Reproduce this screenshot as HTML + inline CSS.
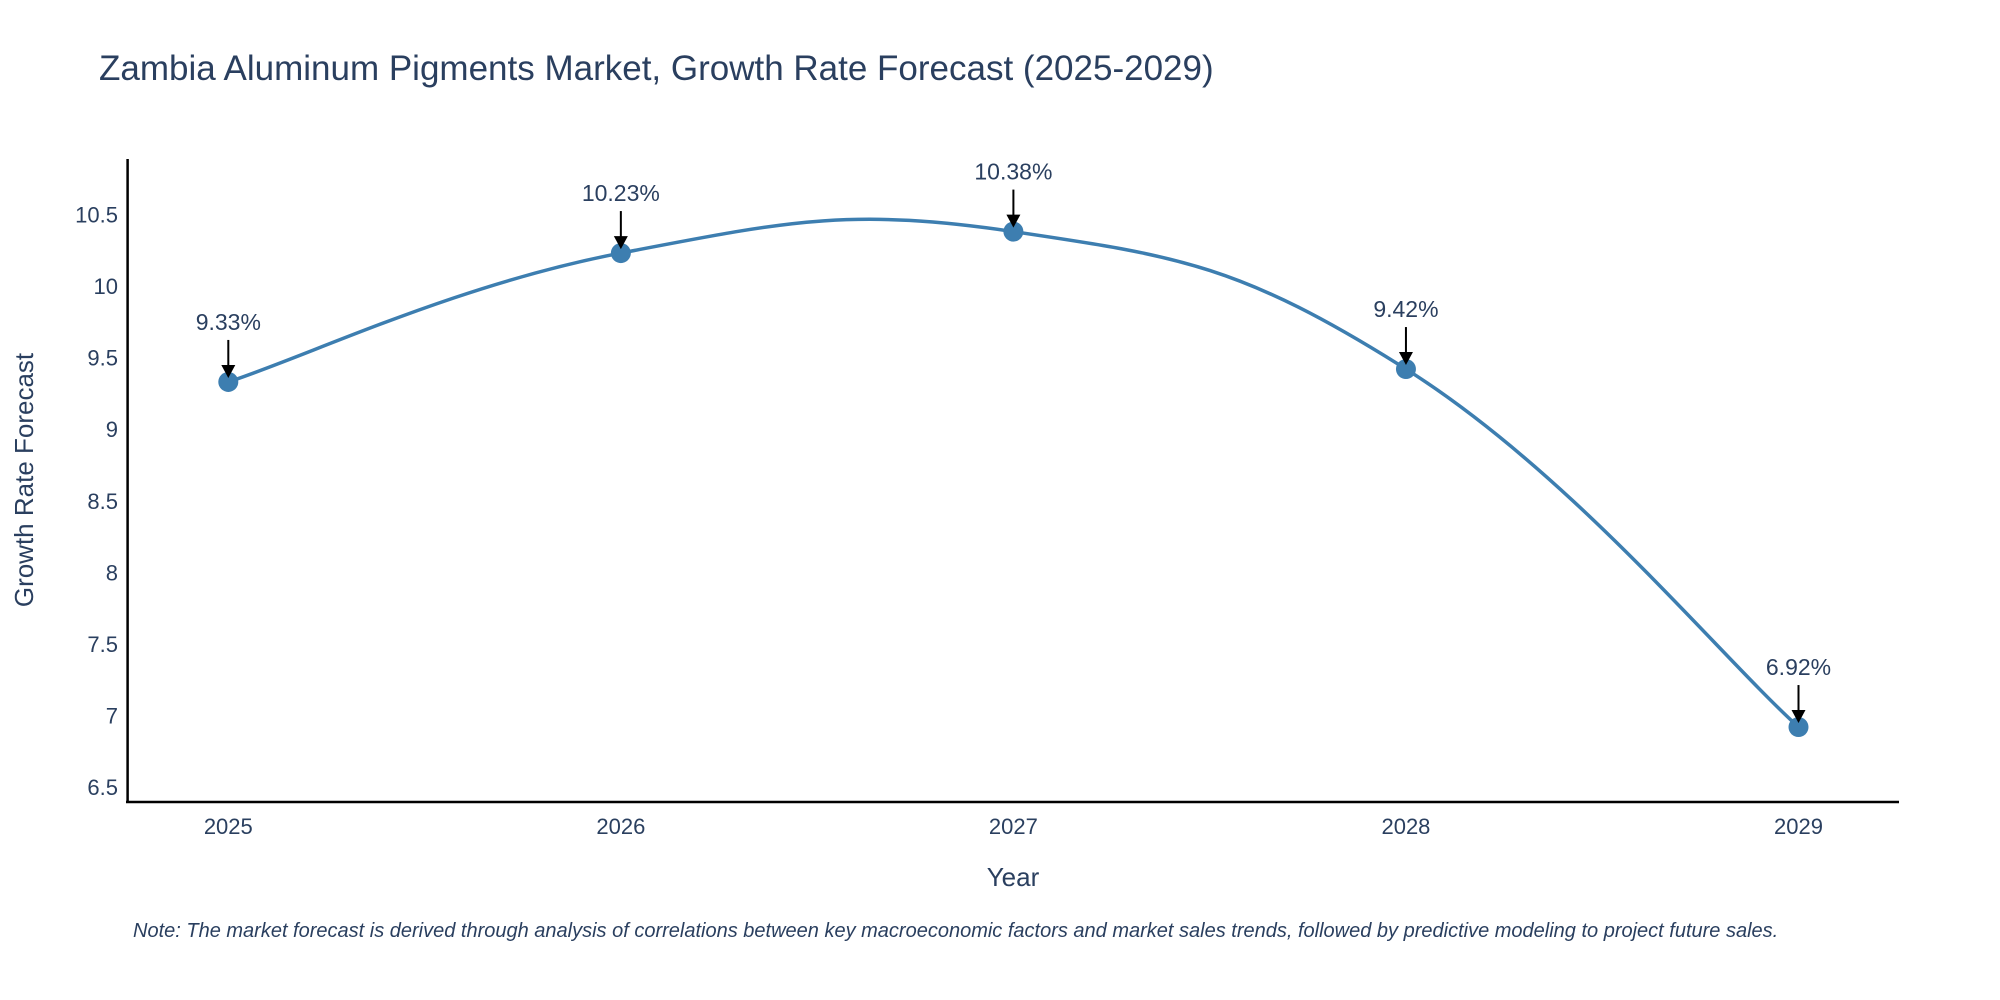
<!DOCTYPE html>
<html><head><meta charset="utf-8"><style>
html,body{margin:0;padding:0;background:#fff;width:2000px;height:1000px;overflow:hidden;font-family:"Liberation Sans",sans-serif;}
</style></head><body>
<svg width="2000" height="1000" xmlns="http://www.w3.org/2000/svg">
<text x="99" y="80" font-size="35" fill="#2a3f5f">Zambia Aluminum Pigments Market, Growth Rate Forecast (2025-2029)</text>
<g id="yticks"></g><g id="xticks"></g>
<line x1="127.6" y1="159" x2="127.6" y2="802" stroke="#000" stroke-width="2.5"/>
<line x1="126" y1="802" x2="1899" y2="802" stroke="#000" stroke-width="2.5"/>
<path id="line" fill="none" stroke="#3d7eb0" stroke-width="3.5"/>
<g id="marks"></g>
<text x="1013" y="886" font-size="26" fill="#2a3f5f" text-anchor="middle">Year</text>
<text transform="translate(33,480) rotate(-90)" font-size="26" fill="#2a3f5f" text-anchor="middle">Growth Rate Forecast</text>
<text x="133" y="937" font-size="20" font-style="italic" fill="#2a3f5f">Note: The market forecast is derived through analysis of correlations between key macroeconomic factors and market sales trends, followed by predictive modeling to project future sales.</text>
</svg>
<script>
const years=[2025,2026,2027,2028,2029];
const values=[9.33,10.23,10.38,9.42,6.92];
const yTicks=[6.5,7,7.5,8,8.5,9,9.5,10,10.5];
const NS="http://www.w3.org/2000/svg";
function xs(i){return 228.3+(1798.5-228.3)*(i)/(years.length-1);}
function ys(v){return 715.6-(v-7)*143.2;}
function mk(tag,attrs,parent){const e=document.createElementNS(NS,tag);for(const k in attrs)e.setAttribute(k,attrs[k]);parent.appendChild(e);return e;}
const yt=document.getElementById('yticks');
yTicks.forEach(t=>{const e=mk('text',{x:118,y:ys(t)+8,'font-size':22,fill:'#2a3f5f','text-anchor':'end'},yt);e.textContent=String(t);

});
const xt=document.getElementById('xticks');
years.forEach((y,i)=>{const e=mk('text',{x:xs(i),y:834,'font-size':22,fill:'#2a3f5f','text-anchor':'middle'},xt);e.textContent=String(y);

});
const P=values.map((v,i)=>[xs(i),ys(v)]);
let d=`M${P[0][0]},${P[0][1]}`;const s=0.21;
for(let i=0;i<P.length-1;i++){const p0=P[i-1]||P[i],p1=P[i],p2=P[i+1],p3=P[i+2]||P[i+1];
d+=` C${p1[0]+(p2[0]-p0[0])*s},${p1[1]+(p2[1]-p0[1])*s} ${p2[0]-(p3[0]-p1[0])*s},${p2[1]-(p3[1]-p1[1])*s} ${p2[0]},${p2[1]}`;}
document.getElementById('line').setAttribute('d',d);
const mg=document.getElementById('marks');
P.forEach((p,i)=>{const c=mk('circle',{cx:p[0],cy:p[1],r:10,fill:'#3d7eb0'},mg);


const l=mk('line',{x1:p[0],y1:p[1]-42,x2:p[0],y2:p[1]-16,stroke:'#000','stroke-width':2},mg);


const a=mk('polygon',{points:`${p[0]-7},${p[1]-17} ${p[0]+7},${p[1]-17} ${p[0]},${p[1]-4}`,fill:'#000'},mg);


const t=mk('text',{x:p[0],y:p[1]-52,'font-size':23,fill:'#2a3f5f','text-anchor':'middle'},mg);t.textContent=values[i].toFixed(2)+'%';

});
</script>
</body></html>
